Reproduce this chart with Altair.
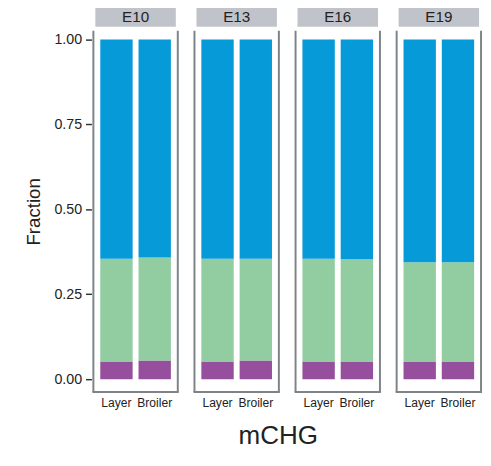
import altair as alt
import pandas as pd

stages = ["E10", "E13", "E16", "E19"]
breeds = ["Layer", "Broiler"]
components = ["Low", "Medium", "High"]
# fractions per stage/breed (order: E10 Layer, E10 Broiler, E13 Layer, ...)
low_vals = [0.052, 0.055, 0.052, 0.055, 0.052, 0.052, 0.052, 0.052]
mid_vals = [0.303, 0.303, 0.303, 0.300, 0.303, 0.301, 0.292, 0.292]
high_vals = [0.645, 0.642, 0.645, 0.645, 0.645, 0.647, 0.656, 0.656]
colors = ["#954F9D", "#91CDA1", "#069AD8"]

rows = []
i = 0
for s in stages:
    for b in breeds:
        for k, (c, vals) in enumerate(zip(components, [low_vals, mid_vals, high_vals])):
            rows.append({"stage": s, "breed": b, "comp": c, "idx": k, "frac": vals[i]})
        i += 1
df = pd.DataFrame(rows)

W, H = 86, 368
FONT = "Liberation Sans"
BORDER = "#7E8387"

bars = alt.Chart().mark_bar().encode(
    x=alt.X("breed:N", sort=breeds, title=None,
            scale=alt.Scale(paddingInner=0.154, paddingOuter=0.18),
            axis=alt.Axis(labelAngle=0, ticks=False, domain=False, labelPadding=4,
                          labelFontSize=12.3, labelColor="#222222", labelFont=FONT)),
    y=alt.Y("frac:Q", stack="zero", title="Fraction",
            scale=alt.Scale(domain=[-0.0376, 1.026], nice=False, zero=False),
            axis=alt.Axis(values=[0, 0.25, 0.5, 0.75, 1.0], format=".2f", grid=False,
                          domain=False, tickSize=6, tickWidth=1.5, tickColor="#333333",
                          labelPadding=4, labelFontSize=14.5, labelColor="#222222",
                          labelFont=FONT, titleFont=FONT, titleFontSize=19,
                          titleFontWeight="normal", titleColor="#222222", titlePadding=11)),
    color=alt.Color("comp:N", sort=components,
                    scale=alt.Scale(domain=components, range=colors), legend=None),
    order=alt.Order("idx:Q", sort="ascending"),
)

one = "datum.breed == 'Layer' && datum.comp == 'Low'"

strip = alt.Chart().mark_rect(color="#C0C4CA").encode(
    x=alt.value(2), x2=alt.value(W - 2), y=alt.value(-24), y2=alt.value(-4)
).transform_filter(one)

strip_text = alt.Chart().mark_text(font=FONT, fontSize=15.5, color="#222222",
                                   baseline="middle", align="center").encode(
    x=alt.value(W / 2), y=alt.value(-14), text="stage:N"
).transform_filter(one)

left_rule = alt.Chart().mark_rule(color=BORDER, strokeWidth=2).encode(
    x=alt.value(0), y=alt.value(0), y2=alt.value(H)
).transform_filter(one)
right_rule = alt.Chart().mark_rule(color=BORDER, strokeWidth=2).encode(
    x=alt.value(W), y=alt.value(0), y2=alt.value(H)
).transform_filter(one)
bottom_rule = alt.Chart().mark_rule(color=BORDER, strokeWidth=2).encode(
    x=alt.value(-1), x2=alt.value(W + 1), y=alt.value(H)
).transform_filter(one)

cell = alt.layer(bars, strip, strip_text, left_rule, right_rule, bottom_rule,
                 data=df).properties(width=W, height=H)

chart = cell.facet(
    column=alt.Column("stage:N", sort=stages,
                      header=alt.Header(labels=False, title=None, labelPadding=0,
                                        titlePadding=0)),
    spacing=13,
).properties(
    title=alt.TitleParams("mCHG", orient="bottom", anchor="middle", fontSize=26.5,
                          font=FONT, fontWeight="normal", color="#222222",
                          offset=15, dx=25),
    padding={"left": 16, "top": -5, "right": 0, "bottom": 0},
).configure_view(stroke=None)

chart.save("out.html", embed_options={"renderer": "svg", "actions": False})
